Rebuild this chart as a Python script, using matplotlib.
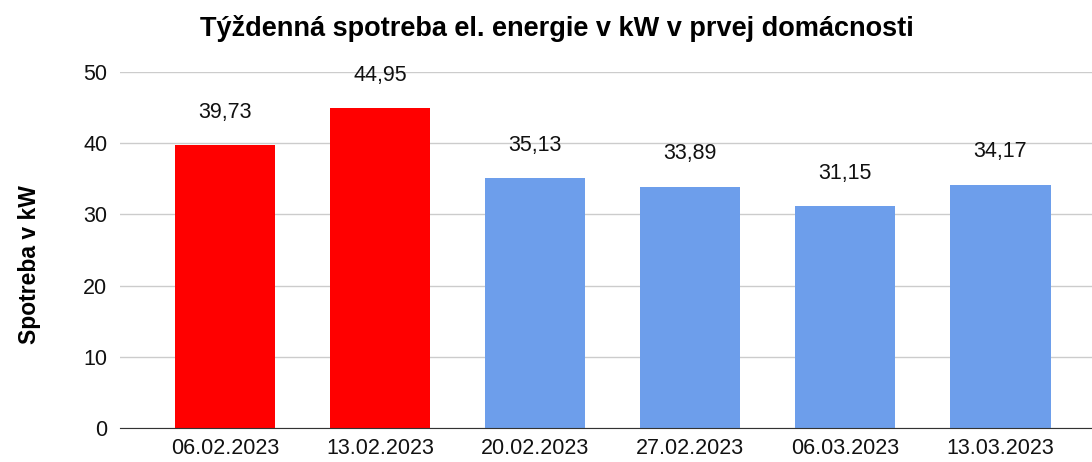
import numpy as np
import matplotlib.pyplot as plt

plt.rcParams['font.family'] = ['Liberation Sans', 'DejaVu Sans']

# Týždne a spotreba v kW
tyzdne = ['06.02.2023', '13.02.2023', '20.02.2023', '27.02.2023', '06.03.2023', '13.03.2023']
spotreba = [39.73, 44.95, 35.13, 33.89, 31.15, 34.17]
farby = ['#ff0000', '#ff0000', '#6d9eeb', '#6d9eeb', '#6d9eeb', '#6d9eeb']

fig = plt.figure(figsize=(10.92, 4.62), dpi=100)
ax = fig.add_axes([120 / 1092, 1 - 428 / 462, (1092 - 120) / 1092, (428 - 72) / 462])

x = np.arange(len(tyzdne))
ax.bar(x, spotreba, width=0.645, color=farby, zorder=3)

for xi, v in zip(x, spotreba):
    ax.text(xi, v + 4.6, f'{v:.2f}'.replace('.', ','), ha='center', va='center',
            fontsize=15.5, color='#111111')

ax.set_xlim(-0.677, 5.59)
ax.set_ylim(0, 50)
ax.set_yticks([0, 10, 20, 30, 40, 50])
ax.set_xticks(x)
ax.set_xticklabels(tyzdne)
ax.tick_params(axis='both', length=0, labelsize=15.5, labelcolor='#111111')
ax.tick_params(axis='y', pad=9)
ax.tick_params(axis='x', pad=7)
ax.grid(axis='y', color='#cccccc', linewidth=1, zorder=0)
for s in ['top', 'right', 'left']:
    ax.spines[s].set_visible(False)
ax.spines['bottom'].set_color('#333333')
ax.spines['bottom'].set_zorder(4)

fig.text(30 / 1092, 1 - 265 / 462, 'Spotreba v kW', rotation=90, ha='center', va='center',
         fontsize=16.5, fontweight='bold')
fig.text(557 / 1092, 1 - 28 / 462, 'Týždenná spotreba el. energie v kW v prvej domácnosti',
         ha='center', va='center', fontsize=19.5, fontweight='bold')

fig.savefig('out.png', dpi=100)
